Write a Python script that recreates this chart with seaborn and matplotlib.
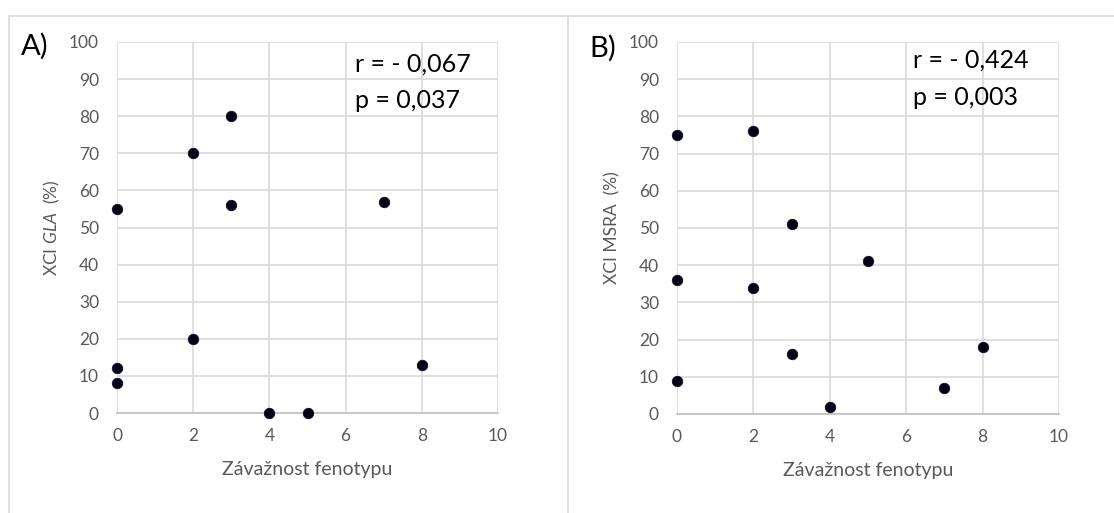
import matplotlib
matplotlib.use("Agg")
import matplotlib.pyplot as plt
from matplotlib.lines import Line2D
import seaborn as sns
import pandas as pd

# Phenotype severity scores and XCI percentages for two loci
severity_a = [0, 0, 0, 2, 2, 3, 3, 4, 5, 7, 8]
xci_gla = [55, 12, 8, 70, 20, 80, 56, 0, 0, 57, 13]

severity_b = [0, 0, 0, 2, 2, 3, 3, 4, 5, 7, 8]
xci_msra = [75, 36, 9, 76, 34, 51, 16, 2, 41, 7, 18]

x_ticks = [0, 2, 4, 6, 8, 10]
y_ticks = [0, 10, 20, 30, 40, 50, 60, 70, 80, 90, 100]

panel_labels = ["A)", "B)"]
stats_a = ["r = - 0,067", "p = 0,037"]
stats_b = ["r = - 0,424", "p = 0,003"]
x_title = "Závažnost fenotypu"
y_titles = [r"XCI $\it{GLA}$  (%)", "XCI MSRA  (%)"]

sns.set_theme(style="white")
plt.rcParams["font.family"] = ["Lato", "DejaVu Sans"]
plt.rcParams["mathtext.fontset"] = "custom"
plt.rcParams["mathtext.rm"] = "Lato"
plt.rcParams["mathtext.it"] = "Lato:italic"

GRID = "#d9d9d9"
TICK = "#595959"

fig = plt.figure(figsize=(11.14, 5.13), dpi=100)
fig.patch.set_facecolor("white")

# Panel frame lines
for seg in [((9, 1114), (16, 16)), ((9, 9), (16, 513)), ((568, 568), (16, 513))]:
    xs = [v / 1114 for v in seg[0]]
    ys = [1 - v / 513 for v in seg[1]]
    fig.add_artist(Line2D(xs, ys, color=GRID, lw=1.2))

axes_rects = [
    [117 / 1114, 1 - 413 / 513, 381 / 1114, 371 / 513],
    [677 / 1114, 1 - 414 / 513, 382 / 1114, 372 / 513],
]
datasets = [
    pd.DataFrame({"x": severity_a, "y": xci_gla}),
    pd.DataFrame({"x": severity_b, "y": xci_msra}),
]
stats = [stats_a, stats_b]
stat_pos = [(6.25, 91.9, 82.2), (6.18, 93.0, 83.0)]
label_px = [(21, 55), (589, 57)]
ylabel_px = [52, 612]

for i, rect in enumerate(axes_rects):
    ax = fig.add_axes(rect)
    ax.set_xlim(0, 10)
    ax.set_ylim(0, 100)
    ax.set_xticks(x_ticks)
    ax.set_yticks(y_ticks)
    ax.grid(True, color=GRID, lw=1.2)
    ax.set_axisbelow(True)
    for s in ["top", "right", "left"]:
        ax.spines[s].set_visible(False)
    ax.spines["bottom"].set_color("#bfbfbf")
    ax.spines["bottom"].set_linewidth(1.2)
    ax.tick_params(axis="both", length=0, labelsize=12.5, colors=TICK)
    ax.tick_params(axis="y", pad=13)
    ax.tick_params(axis="x", pad=11)

    sns.scatterplot(data=datasets[i], x="x", y="y", ax=ax, color="#000010",
                    s=58, edgecolor="#0a0a30", linewidth=0.5, clip_on=False,
                    zorder=5, legend=False)

    ax.set_xlabel(x_title, fontsize=14, color=TICK, labelpad=12)
    ax.set_ylabel("")
    fig.text(ylabel_px[i] / 1114, 1 - 228 / 513, y_titles[i], rotation=90,
             ha="center", va="center", fontsize=12.5, color=TICK)

    sx, sy1, sy2 = stat_pos[i]
    ax.text(sx, sy1, stats[i][0], fontsize=18, color="black", va="baseline")
    ax.text(sx, sy2, stats[i][1], fontsize=18, color="black", va="baseline")

    lx, ly = label_px[i]
    fig.text(lx / 1114, 1 - ly / 513, panel_labels[i], fontsize=21,
             color="black", va="baseline", ha="left")

fig.savefig("out.png", dpi=100, facecolor="white")
